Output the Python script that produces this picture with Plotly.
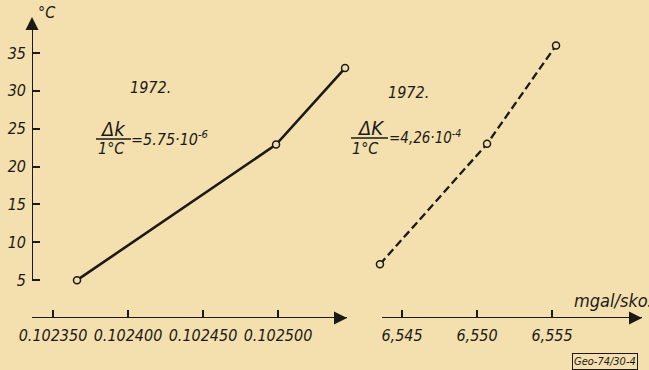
import plotly.graph_objects as go

# ---- data ----
temp_ticks = [5, 10, 15, 20, 25, 30, 35]
k_ticks = [0.102350, 0.102400, 0.102450, 0.102500]
k_tick_labels = ["0.102350", "0.102400", "0.102450", "0.102500"]
K_ticks = [6.545, 6.550, 6.555]
K_tick_labels = ["6,545", "6,550", "6,555"]

k_values = [0.102366, 0.1024987, 0.1025447]   # Δk series (left)
k_temps = [5.0, 22.9, 33.0]
K_values = [6.54353, 6.55067, 6.55527]        # ΔK series (right)
K_temps = [7.1, 23.0, 36.0]

# ---- style ----
BG = "#f4dfae"
INK = "#1b1a17"
FONT = "DejaVu Sans Condensed, Liberation Sans Narrow, Liberation Sans, sans-serif"
W, H = 649, 370

def px(x):
    return x / W

def py(y):
    return 1 - y / H

k_range = [0.102336, 0.102546]
K_axis = [6.543667, 6.561]          # drawn axis extent (right panel)
K_range = [6.542867, 6.561]         # plotting range (slightly wider on the left)
t_range = [0, 39.75]

fig = go.Figure()

fig.add_trace(go.Scatter(
    x=k_values, y=k_temps, xaxis="x", yaxis="y", mode="lines+markers",
    line=dict(color=INK, width=2.6),
    marker=dict(symbol="circle", size=7, color=BG, line=dict(color=INK, width=1.5)),
    cliponaxis=False, showlegend=False, hoverinfo="skip"))

fig.add_trace(go.Scatter(
    x=K_values, y=K_temps, xaxis="x2", yaxis="y", mode="lines+markers",
    line=dict(color=INK, width=2.3, dash="8px,4px"),
    marker=dict(symbol="circle", size=7, color=BG, line=dict(color=INK, width=1.5)),
    cliponaxis=False, showlegend=False, hoverinfo="skip"))

# arrowheads at the axis ends
fig.add_trace(go.Scatter(
    x=[k_range[1]], y=[0], xaxis="x", yaxis="y", mode="markers",
    marker=dict(symbol="arrow-right", size=13, color=INK, line=dict(width=0)),
    cliponaxis=False, showlegend=False, hoverinfo="skip"))
fig.add_trace(go.Scatter(
    x=[K_axis[1]], y=[0], xaxis="x2", yaxis="y", mode="markers",
    marker=dict(symbol="arrow-right", size=13, color=INK, line=dict(width=0)),
    cliponaxis=False, showlegend=False, hoverinfo="skip"))
fig.add_trace(go.Scatter(
    x=[k_range[0]], y=[t_range[1]], xaxis="x", yaxis="y", mode="markers",
    marker=dict(symbol="arrow-up", size=13, color=INK, line=dict(width=0)),
    cliponaxis=False, showlegend=False, hoverinfo="skip"))

tickfont = dict(family=FONT, size=16, color=INK, style="italic")

fig.update_layout(
    width=W, height=H, template="none",
    paper_bgcolor=BG, plot_bgcolor="rgba(0,0,0,0)",
    margin=dict(l=0, r=0, t=0, b=0),
    showlegend=False,
    xaxis=dict(domain=[px(32), px(347)], range=k_range, anchor="y",
               tickvals=k_ticks, ticktext=k_tick_labels, ticks="inside",
               ticklen=8, tickwidth=1.5, tickcolor=INK, showline=False,
               showgrid=False, zeroline=False, tickfont=tickfont,
               automargin=False, ticklabelstandoff=6),
    xaxis2=dict(domain=[px(370), px(642)], range=K_range, anchor="y",
                tickvals=K_ticks, ticktext=K_tick_labels, ticks="inside",
                ticklen=8, tickwidth=1.5, tickcolor=INK, showline=False,
                showgrid=False, zeroline=False, tickfont=tickfont,
                automargin=False, ticklabelstandoff=6),
    yaxis=dict(domain=[py(318), py(17)], range=t_range, anchor="x",
               tickvals=temp_ticks, ticks="inside", ticklen=8, tickwidth=1.5,
               tickcolor=INK, showline=False, showgrid=False, zeroline=False,
               tickfont=dict(family=FONT, size=16, color=INK, style="italic"),
               automargin=False, ticklabelstandoff=5),
)

shapes = [
    # axis lines
    dict(type="line", xref="x", yref="y", x0=k_range[0], x1=k_range[0],
         y0=5, y1=t_range[1] - 1, line=dict(color=INK, width=2)),
    dict(type="line", xref="x", yref="y", x0=k_range[0], x1=k_range[1],
         y0=0, y1=0, line=dict(color=INK, width=2)),
    dict(type="line", xref="x2", yref="y", x0=K_axis[0], x1=K_axis[1],
         y0=0, y1=0, line=dict(color=INK, width=2)),
    # fraction bars
    dict(type="line", xref="paper", yref="paper", x0=px(96), x1=px(131),
         y0=py(139), y1=py(139), line=dict(color=INK, width=1.3)),
    dict(type="line", xref="paper", yref="paper", x0=px(351), x1=px(388),
         y0=py(138), y1=py(138), line=dict(color=INK, width=1.3)),
]

annotations = []

def txt(x, y, s, size=14, xanchor="center", yanchor="middle"):
    annotations.append(dict(xref="paper", yref="paper", x=px(x), y=py(y),
                            text=s, showarrow=False, xanchor=xanchor,
                            yanchor=yanchor,
                            font=dict(family=FONT, size=size, color=INK,
                                      style="italic")))

txt(47, 13, "°C", size=16)
txt(150, 87, "1972.", size=16)
txt(408, 92, "1972.", size=16)

# left fraction
txt(113, 129, "Δk", size=20)
txt(111, 148, "1°C", size=16)
txt(129, 138, "=5.75·10<sup>-6</sup>", size=16, xanchor="left")
# right fraction
txt(370, 128, "ΔK", size=20)
txt(366, 148, "1°C", size=16)
txt(387, 137, "=4,26·10<sup>-4</sup>", size=15, xanchor="left")

txt(572, 300, "mgal/skosztás", size=18, xanchor="left")

annotations.append(dict(xref="paper", yref="paper", x=px(605), y=py(361),
                        xanchor="center", yanchor="middle",
                        text="Geo-74/30-4", showarrow=False,
                        bordercolor=INK, borderwidth=1, borderpad=1,
                        font=dict(family=FONT, size=11, color=INK,
                                  style="italic")))

fig.update_layout(annotations=annotations, shapes=shapes)

fig.write_html(
    "out.html",
    config={"displayModeBar": False},
    post_script="document.body.style.margin='0';"
                "document.body.style.background='" + BG + "';",
)
